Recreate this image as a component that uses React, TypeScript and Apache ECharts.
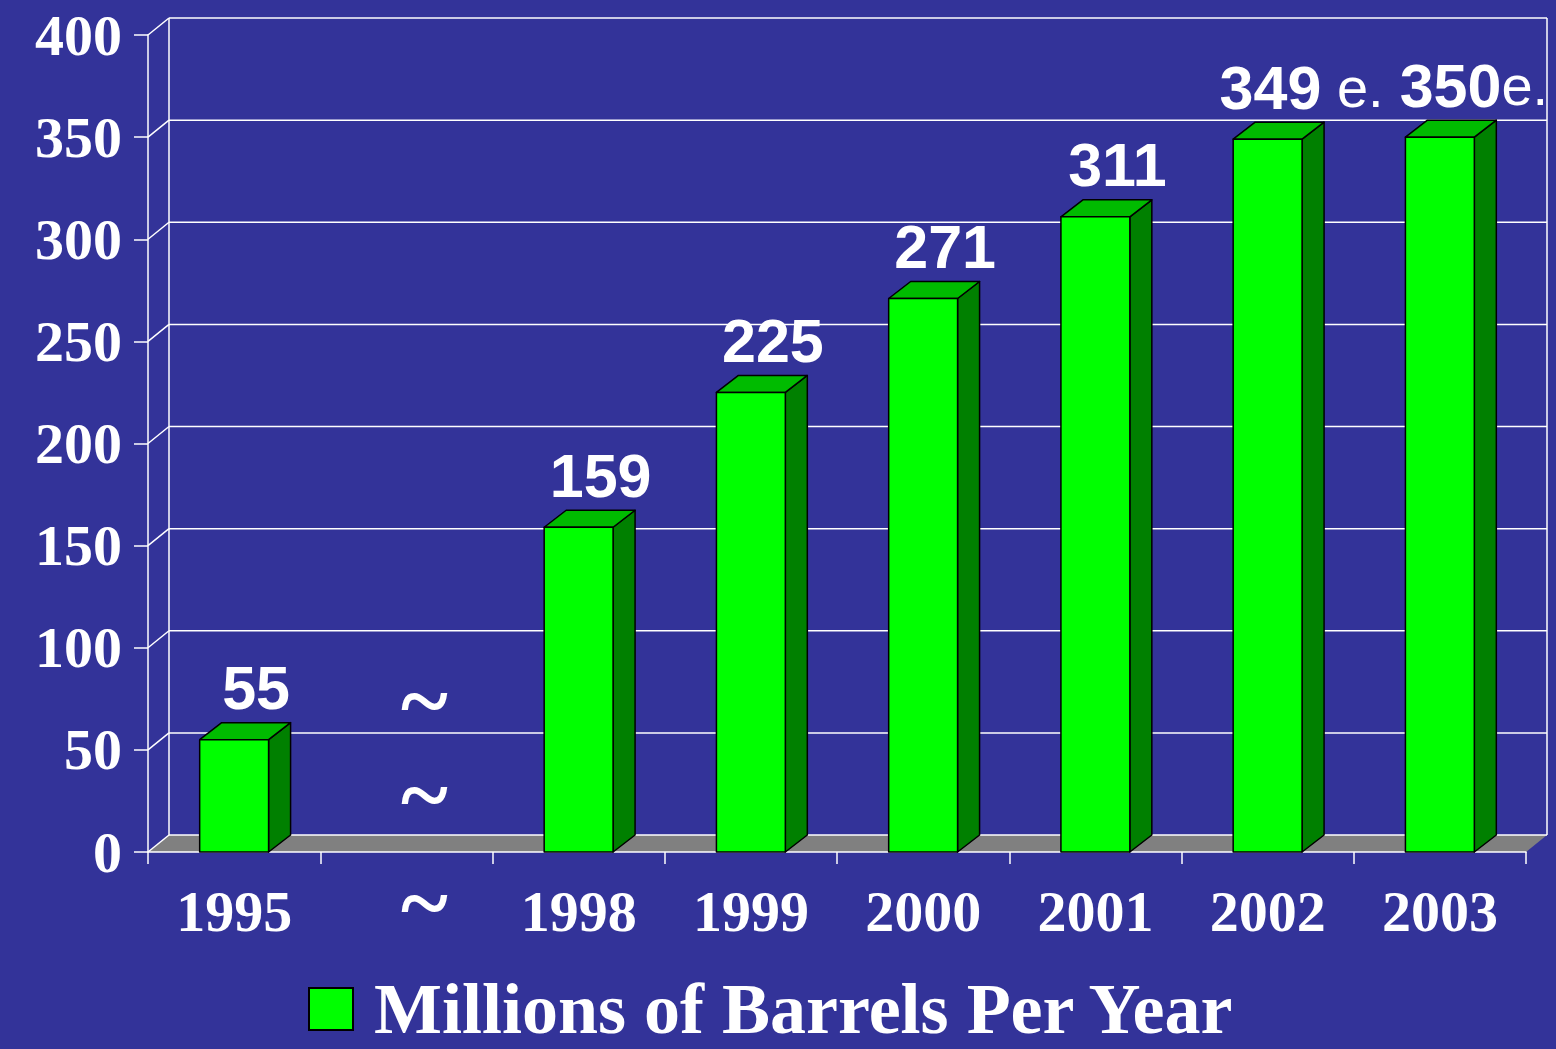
import React, { useEffect, useRef } from "react";
import * as echarts from "echarts";

const categories = ["1995", "~", "1998", "1999", "2000", "2001", "2002", "2003"];
const values: (number | null)[] = [55, null, 159, 225, 271, 311, 349, 350];
const valueLabels = ["55", "", "159", "225", "271", "311", "349", "350"];
const labelSuffix = ["", "", "", "", "", "", " e.", "e."];
const yTicks = [0, 50, 100, 150, 200, 250, 300, 350, 400];
const breakMarks = [74, 28];
const seriesName = "Millions of Barrels Per Year";

const Y_MAX = 400;
const DX = 21;
const DY = 17;
const BG = "#333399";
const SERIF = "'Liberation Serif', 'Times New Roman', serif";
const SANS = "'Liberation Sans', Arial, sans-serif";

export default function App() {
  const ref = useRef<HTMLDivElement>(null);

  useEffect(() => {
    if (!ref.current) return;
    const chart = echarts.init(ref.current, null, { renderer: "svg" });

    const frameData = yTicks.map((v) => [0, v]);
    const barData = values
      .map((v, i) => (v == null ? null : [i, v]))
      .filter((d) => d !== null) as number[][];
    const breakData = breakMarks.map((v) => [1, v]);

    const option: any = {
      animation: false,
      backgroundColor: BG,
      grid: { left: 148, right: 30, top: 35, bottom: 197, containLabel: false },
      legend: {
        data: [
          {
            name: seriesName,
            icon: "rect",
            itemStyle: { color: "#00ff00", borderColor: "#000", borderWidth: 2 },
          },
        ],
        left: 303,
        top: 968,
        itemWidth: 44,
        itemHeight: 42,
        selectedMode: false,
        textStyle: {
          color: "#ffffff",
          fontFamily: SERIF,
          fontWeight: "bold",
          fontSize: 72,
          padding: [0, 0, 0, 16],
        },
      },
      xAxis: {
        type: "category",
        data: categories,
        boundaryGap: true,
        axisLine: { show: true, lineStyle: { color: "#ffffff", width: 1.5 } },
        axisTick: {
          show: true,
          length: 12,
          alignWithLabel: false,
          interval: 0,
          lineStyle: { color: "#ffffff", width: 1.5 },
        },
        axisLabel: {
          interval: 0,
          color: "#ffffff",
          fontFamily: SERIF,
          fontWeight: "bold",
          fontSize: 58,
          margin: 30,
          formatter: (v: string) => (v === "~" ? "{t|~}" : v),
          rich: {
            t: {
              fontFamily: SERIF,
              fontWeight: "bold",
              fontSize: 90,
              lineHeight: 40,
              color: "#ffffff",
              padding: [0, 0, 0, 36],
            },
          },
        },
        splitLine: { show: false },
      },
      yAxis: {
        type: "value",
        min: 0,
        max: Y_MAX,
        interval: 50,
        axisLine: { show: true, lineStyle: { color: "#ffffff", width: 1.5 } },
        axisTick: { show: true, length: 14, lineStyle: { color: "#ffffff", width: 1.5 } },
        axisLabel: {
          color: "#ffffff",
          fontFamily: SERIF,
          fontWeight: "bold",
          fontSize: 58,
          margin: 26,
        },
        splitLine: { show: false },
      },
      series: [
        {
          name: "frame",
          type: "custom",
          z: -1,
          silent: true,
          data: frameData,
          renderItem: (params: any, api: any) => {
            const v = api.value(1);
            const p = api.coord([0, v]);
            const bw = api.size([1, 0])[0];
            const xL = p[0] - bw / 2;
            const xR = api.coord([categories.length - 1, v])[0] + bw / 2;
            const y = p[1];
            const children: any[] = [];
            const lineStyle = { stroke: "#ffffff", lineWidth: 1.5 };
            if (v === 0) {
              const yTop = api.coord([0, Y_MAX])[1];
              children.push({
                type: "polygon",
                shape: {
                  points: [
                    [xL, y],
                    [xR, y],
                    [xR + DX, y - DY],
                    [xL + DX, y - DY],
                  ],
                },
                style: { fill: "#808080" },
              });
              children.push({
                type: "line",
                shape: { x1: xL + DX, y1: y - DY, x2: xL + DX, y2: yTop - DY },
                style: lineStyle,
              });
              children.push({
                type: "line",
                shape: { x1: xR + DX, y1: y - DY, x2: xR + DX, y2: yTop - DY },
                style: lineStyle,
              });
            }
            children.push({
              type: "line",
              shape: { x1: xL, y1: y, x2: xL + DX, y2: y - DY },
              style: lineStyle,
            });
            children.push({
              type: "line",
              shape: { x1: xL + DX, y1: y - DY, x2: xR + DX, y2: y - DY },
              style: lineStyle,
            });
            return { type: "group", children };
          },
        },
        {
          name: "breaks",
          type: "custom",
          silent: true,
          data: breakData,
          renderItem: (params: any, api: any) => {
            const p = api.coord([api.value(0), api.value(1)]);
            return {
              type: "text",
              style: {
                x: p[0] + 18,
                y: p[1],
                text: "~",
                fill: "#ffffff",
                fontFamily: SERIF,
                fontWeight: "bold",
                fontSize: 90,
                lineHeight: 40,
                align: "center",
                verticalAlign: "middle",
              },
            };
          },
        },
        {
          name: seriesName,
          type: "custom",
          z: 3,
          itemStyle: { color: "#00ff00" },
          data: barData,
          renderItem: (params: any, api: any) => {
            const idx = api.value(0);
            const val = api.value(1);
            const top = api.coord([idx, val]);
            const base = api.coord([idx, 0]);
            const bw = api.size([1, 0])[0];
            const w = bw * 0.4;
            const xl = top[0] - w / 2;
            const xr = top[0] + w / 2;
            const yt = top[1];
            const yb = base[1];
            const stroke = { stroke: "#000000", lineWidth: 1.5, lineJoin: "round" };
            const suffix = labelSuffix[idx];
            const text = suffix ? `{v|${valueLabels[idx]}}{e|${suffix}}` : `{v|${valueLabels[idx]}}`;
            return {
              type: "group",
              children: [
                {
                  type: "polygon",
                  shape: {
                    points: [
                      [xr, yt],
                      [xr + DX + 1, yt - DY],
                      [xr + DX + 1, yb - DY],
                      [xr, yb],
                    ],
                  },
                  style: { fill: "#008000", ...stroke },
                },
                {
                  type: "polygon",
                  shape: {
                    points: [
                      [xl, yt],
                      [xl + DX + 1, yt - DY],
                      [xr + DX + 1, yt - DY],
                      [xr, yt],
                    ],
                  },
                  style: { fill: "#00bb00", ...stroke },
                },
                {
                  type: "rect",
                  shape: { x: xl, y: yt, width: w, height: yb - yt },
                  style: { fill: "#00ff00", ...stroke },
                },
                {
                  type: "text",
                  style: {
                    x: top[0] + (suffix ? 34 : 22),
                    y: yt - DY - 4,
                    text,
                    align: "center",
                    verticalAlign: "bottom",
                    rich: {
                      v: {
                        fontFamily: SANS,
                        fontWeight: "bold",
                        fontSize: 61,
                        fill: "#ffffff",
                      },
                      e: {
                        fontFamily: SANS,
                        fontWeight: "normal",
                        fontSize: 56,
                        fill: "#ffffff",
                      },
                    },
                  },
                },
              ],
            };
          },
        },
      ],
    };

    chart.setOption(option);
    return () => chart.dispose();
  }, []);

  return (
    <div
      ref={ref}
      style={{ position: "fixed", left: 0, top: 0, width: 1556, height: 1049 }}
    />
  );
}
